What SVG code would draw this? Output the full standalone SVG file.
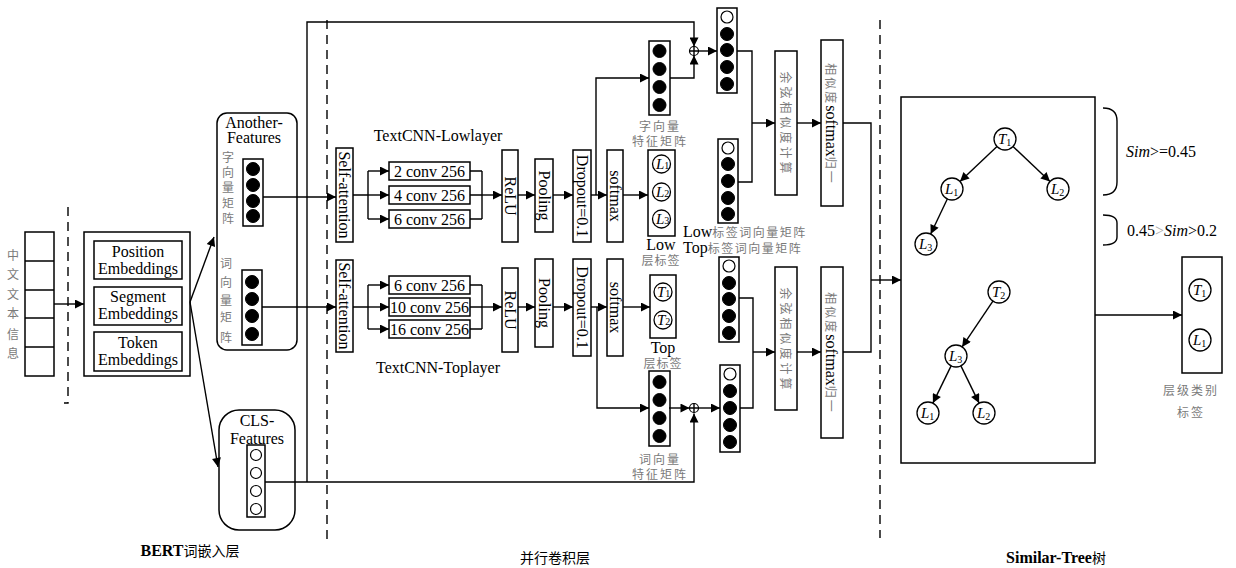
<svg xmlns="http://www.w3.org/2000/svg" width="1236" height="568" viewBox="0 0 1236 568">
<style>
.bx{fill:#fff;stroke:#000;stroke-width:1.5}
.ln{fill:none;stroke:#000;stroke-width:1.4}
.ar{fill:none;stroke:#000;stroke-width:1.4;marker-end:url(#ah)}
.dash{fill:none;stroke:#000;stroke-width:1.4;stroke-dasharray:9,6}
.t{font-family:"Liberation Serif",serif;font-size:16px;fill:#000}
.cn{font-family:"Noto Sans CJK SC",sans-serif;font-size:12px;fill:#7a7a7a}
.f{fill:#000;stroke:#000;stroke-width:1}
.o{fill:#fff;stroke:#000;stroke-width:1.2}
.nd{fill:#fff;stroke:#000;stroke-width:1.3}
.it{font-family:"Liberation Serif",serif;font-size:15px;font-style:italic;fill:#000}
.sb{font-style:normal;font-size:10px}
</style>
<defs>
<marker id="ah" viewBox="0 0 10 10" refX="10" refY="5" markerWidth="11" markerHeight="9" markerUnits="userSpaceOnUse" orient="auto"><path d="M0,0 L10,5 L0,10z" fill="#000"/></marker>
</defs>
<rect width="1236" height="568" fill="#fff"/>

<g id="separators">
<path class="dash" d="M68,207 V403 H64"/>
<path class="dash" d="M327,20 V540"/>
<path class="dash" d="M880,20 V538"/>
</g>

<g id="input">
<rect class="bx" x="25" y="232" width="29" height="144"/>
<path class="ln" d="M25,261 H54 M25,290 H54 M25,318 H54 M25,347 H54"/>
<g class="cn" text-anchor="middle" font-size="14">
<text x="13" y="260">中</text><text x="13" y="279">文</text><text x="13" y="299">文</text><text x="13" y="318">本</text><text x="13" y="339">信</text><text x="13" y="358">息</text>
</g>
</g>

<g id="bert">
<rect class="bx" x="84" y="232" width="106" height="144"/>
<rect class="bx" x="94" y="241" width="88" height="38"/>
<rect class="bx" x="94" y="287" width="88" height="38"/>
<rect class="bx" x="94" y="332" width="88" height="39"/>
<g class="t" font-size="15.5" text-anchor="middle">
<text x="138" y="257">Position</text><text x="138" y="274">Embeddings</text>
<text x="138" y="302">Segment</text><text x="138" y="319">Embeddings</text>
<text x="138" y="348">Token</text><text x="138" y="365">Embeddings</text>
</g>
</g>

<g id="another-features">
<rect class="bx" x="217" y="113" width="80" height="237" rx="10"/>
<text class="t" x="254" y="128" text-anchor="middle" font-size="15.5">Another-</text>
<text class="t" x="254" y="143" text-anchor="middle" font-size="15.5">Features</text>
<g class="cn" text-anchor="middle" font-size="14">
<text x="228" y="162">字</text><text x="228" y="177">向</text><text x="228" y="192">量</text><text x="228" y="208">矩</text><text x="228" y="223">阵</text>
<text x="226" y="268">词</text><text x="226" y="287">向</text><text x="226" y="305">量</text><text x="226" y="322">矩</text><text x="226" y="342">阵</text>
</g>
<rect class="bx" x="243" y="159" width="20" height="67"/>
<circle class="f" cx="253" cy="169" r="6.5"/><circle class="f" cx="253" cy="185" r="6.5"/><circle class="f" cx="253" cy="201" r="6.5"/><circle class="f" cx="253" cy="216" r="6.5"/>
<rect class="bx" x="242" y="270" width="20" height="75"/>
<circle class="f" cx="252" cy="282" r="6.5"/><circle class="f" cx="252" cy="299" r="6.5"/><circle class="f" cx="252" cy="316" r="6.5"/><circle class="f" cx="252" cy="334" r="6.5"/>
</g>

<g id="cls-features">
<rect class="bx" x="219" y="410" width="76" height="120" rx="20"/>
<text class="t" x="257" y="426" text-anchor="middle" font-size="15.5">CLS-</text>
<text class="t" x="257" y="444" text-anchor="middle" font-size="15.5">Features</text>
<rect class="bx" x="247" y="445" width="18" height="72"/>
<circle class="o" cx="256" cy="455" r="5.5"/><circle class="o" cx="256" cy="473" r="5.5"/><circle class="o" cx="256" cy="491" r="5.5"/><circle class="o" cx="256" cy="509" r="5.5"/>
</g>

<g id="textcnn-low">
<text class="t" x="438" y="141" text-anchor="middle">TextCNN-Lowlayer</text>
<rect class="bx" x="336" y="148" width="17" height="94"/>
<text class="t" transform="translate(344.5,195) rotate(90)" text-anchor="middle" dominant-baseline="central">Self-attention</text>
<rect class="bx" x="389" y="162" width="81" height="18"/>
<rect class="bx" x="389" y="186" width="81" height="18"/>
<rect class="bx" x="389" y="210" width="81" height="18"/>
<text class="t" x="429.5" y="177" text-anchor="middle">2 conv 256</text>
<text class="t" x="429.5" y="201" text-anchor="middle">4 conv 256</text>
<text class="t" x="429.5" y="225" text-anchor="middle">6 conv 256</text>
<rect class="bx" x="502" y="150" width="16" height="92"/>
<text class="t" transform="translate(510,196) rotate(90)" text-anchor="middle" dominant-baseline="central">ReLU</text>
<rect class="bx" x="535" y="159" width="18" height="73"/>
<text class="t" transform="translate(544,195.5) rotate(90)" text-anchor="middle" dominant-baseline="central">Pooling</text>
<rect class="bx" x="573" y="150" width="18" height="92"/>
<text class="t" font-size="15" transform="translate(582,196) rotate(90)" text-anchor="middle" dominant-baseline="central">Dropout=0.1</text>
<rect class="bx" x="607" y="150" width="16" height="92"/>
<text class="t" transform="translate(615,196) rotate(90)" text-anchor="middle" dominant-baseline="central">softmax</text>
</g>

<g id="low-labels">
<rect class="bx" x="648" y="150" width="27" height="86"/>
<circle class="nd" cx="661.5" cy="164" r="9"/><circle class="nd" cx="661.5" cy="192" r="9"/><circle class="nd" cx="661.5" cy="219" r="9"/>
<text class="it" font-size="13" x="656" y="168.5">L<tspan class="sb" font-size="8">1</tspan></text>
<text class="it" font-size="13" x="656" y="196.5">L<tspan class="sb" font-size="8">2</tspan></text>
<text class="it" font-size="13" x="656" y="223.5">L<tspan class="sb" font-size="8">3</tspan></text>
<text class="t" font-size="13" x="661" y="250" text-anchor="middle">Low</text>
<text class="cn" x="661" y="265" text-anchor="middle" letter-spacing="1">层标签</text>
</g>

<g id="textcnn-top">
<text class="t" x="438" y="373" text-anchor="middle">TextCNN-Toplayer</text>
<rect class="bx" x="336" y="260" width="17" height="92"/>
<text class="t" transform="translate(344.5,306) rotate(90)" text-anchor="middle" dominant-baseline="central">Self-attention</text>
<rect class="bx" x="389" y="276" width="81" height="18"/>
<rect class="bx" x="389" y="298" width="81" height="18"/>
<rect class="bx" x="389" y="320" width="81" height="18"/>
<text class="t" x="429.5" y="291" text-anchor="middle">6 conv 256</text>
<text class="t" x="429.5" y="313" text-anchor="middle">10 conv 256</text>
<text class="t" x="429.5" y="335" text-anchor="middle">16 conv 256</text>
<rect class="bx" x="502" y="268" width="16" height="84"/>
<text class="t" transform="translate(510,310) rotate(90)" text-anchor="middle" dominant-baseline="central">ReLU</text>
<rect class="bx" x="535" y="259" width="18" height="88"/>
<text class="t" transform="translate(544,303) rotate(90)" text-anchor="middle" dominant-baseline="central">Pooling</text>
<rect class="bx" x="573" y="259" width="18" height="97"/>
<text class="t" font-size="15" transform="translate(582,307.5) rotate(90)" text-anchor="middle" dominant-baseline="central">Dropout=0.1</text>
<rect class="bx" x="607" y="259" width="16" height="97"/>
<text class="t" transform="translate(615,307.5) rotate(90)" text-anchor="middle" dominant-baseline="central">softmax</text>
</g>

<g id="top-labels">
<rect class="bx" x="650" y="275" width="26" height="63"/>
<circle class="nd" cx="663" cy="292" r="9"/><circle class="nd" cx="663" cy="320" r="9"/>
<text class="it" font-size="13" x="657" y="296.5">T<tspan class="sb" font-size="8">1</tspan></text>
<text class="it" font-size="13" x="657" y="324.5">T<tspan class="sb" font-size="8">2</tspan></text>
<text class="t" font-size="13" x="663" y="353" text-anchor="middle">Top</text>
<text class="cn" x="663" y="368" text-anchor="middle" letter-spacing="1">层标签</text>
</g>

<g id="char-feature">
<rect class="bx" x="649" y="41" width="21" height="74"/>
<circle class="f" cx="659.5" cy="51" r="6.5"/><circle class="f" cx="659.5" cy="69" r="6.5"/><circle class="f" cx="659.5" cy="87" r="6.5"/><circle class="f" cx="659.5" cy="105" r="6.5"/>
<text class="cn" x="660" y="131" text-anchor="middle" letter-spacing="2">字向量</text>
<text class="cn" x="660" y="146" text-anchor="middle" letter-spacing="2">特征矩阵</text>
</g>

<g id="word-feature">
<rect class="bx" x="649" y="371" width="21" height="75"/>
<circle class="f" cx="659.5" cy="382" r="6.5"/><circle class="f" cx="659.5" cy="400" r="6.5"/><circle class="f" cx="659.5" cy="418" r="6.5"/><circle class="f" cx="659.5" cy="436" r="6.5"/>
<text class="cn" x="660" y="464" text-anchor="middle" letter-spacing="2">词向量</text>
<text class="cn" x="660" y="479" text-anchor="middle" letter-spacing="2">特征矩阵</text>
</g>

<g id="plus-top">
<circle cx="694" cy="51" r="4.5" fill="#fff" stroke="#000" stroke-width="1.2"/>
<path class="ln" stroke-width="1" d="M689.5,51 H698.5 M694,46.5 V55.5"/>
</g>
<g id="plus-bottom">
<circle cx="694" cy="408" r="4.5" fill="#fff" stroke="#000" stroke-width="1.2"/>
<path class="ln" stroke-width="1" d="M689.5,408 H698.5 M694,403.5 V412.5"/>
</g>

<g id="vec-concat-top">
<rect class="bx" x="717" y="8" width="20" height="85"/>
<circle class="o" cx="727" cy="17" r="6"/><circle class="f" cx="727" cy="34" r="6.5"/><circle class="f" cx="727" cy="50" r="6.5"/><circle class="f" cx="727" cy="67" r="6.5"/><circle class="f" cx="727" cy="84" r="6.5"/>
</g>
<g id="vec-low-label">
<rect class="bx" x="718" y="139" width="20" height="84"/>
<circle class="o" cx="728" cy="148" r="6"/><circle class="f" cx="728" cy="164" r="6.5"/><circle class="f" cx="728" cy="181" r="6.5"/><circle class="f" cx="728" cy="198" r="6.5"/><circle class="f" cx="728" cy="214" r="6.5"/>
</g>
<g id="vec-top-label">
<rect class="bx" x="719" y="257" width="20" height="85"/>
<circle class="o" cx="729" cy="266" r="6"/><circle class="f" cx="729" cy="283" r="6.5"/><circle class="f" cx="729" cy="299" r="6.5"/><circle class="f" cx="729" cy="316" r="6.5"/><circle class="f" cx="729" cy="333" r="6.5"/>
</g>
<g id="vec-concat-bottom">
<rect class="bx" x="720" y="365" width="20" height="87"/>
<circle class="o" cx="730" cy="374" r="6"/><circle class="f" cx="730" cy="391" r="6.5"/><circle class="f" cx="730" cy="408" r="6.5"/><circle class="f" cx="730" cy="425" r="6.5"/><circle class="f" cx="730" cy="442" r="6.5"/>
</g>
<g id="label-matrix-text">
<text x="683" y="237"><tspan class="t" font-size="14">Low</tspan><tspan class="cn" font-size="13" letter-spacing="1.5">标签词向量矩阵</tspan></text>
<text x="683" y="253"><tspan class="t" font-size="14">Top</tspan><tspan class="cn" font-size="13" letter-spacing="1.5">标签词向量矩阵</tspan></text>
</g>

<g id="cosine-1">
<rect class="bx" x="775" y="51" width="22" height="144"/>
<text class="cn" font-size="14" letter-spacing="3" transform="translate(786,124) rotate(90)" text-anchor="middle" dominant-baseline="central">余弦相似度计算</text>
</g>
<g id="softmax-1">
<rect class="bx" x="821" y="40" width="22" height="166"/>
<text transform="translate(832,124) rotate(90)" text-anchor="middle" dominant-baseline="central"><tspan class="cn" font-size="14" letter-spacing="2">相似度</tspan><tspan class="t">softmax</tspan><tspan class="cn" font-size="14" letter-spacing="2">归一</tspan></text>
</g>
<g id="cosine-2">
<rect class="bx" x="775" y="267" width="22" height="143"/>
<text class="cn" font-size="14" letter-spacing="3" transform="translate(786,340) rotate(90)" text-anchor="middle" dominant-baseline="central">余弦相似度计算</text>
</g>
<g id="softmax-2">
<rect class="bx" x="821" y="267" width="22" height="171"/>
<text transform="translate(832,353) rotate(90)" text-anchor="middle" dominant-baseline="central"><tspan class="cn" font-size="14" letter-spacing="2">相似度</tspan><tspan class="t">softmax</tspan><tspan class="cn" font-size="14" letter-spacing="2">归一</tspan></text>
</g>

<g id="similar-tree">
<rect class="bx" x="901" y="97" width="194" height="366"/>
<circle class="nd" cx="1005" cy="139" r="11"/><text class="it" x="998" y="144">T<tspan class="sb" dy="2">1</tspan></text>
<circle class="nd" cx="952" cy="189" r="11"/><text class="it" x="945" y="194">L<tspan class="sb" dy="2">1</tspan></text>
<circle class="nd" cx="1058" cy="189" r="11"/><text class="it" x="1051" y="194">L<tspan class="sb" dy="2">2</tspan></text>
<circle class="nd" cx="926" cy="244" r="11"/><text class="it" x="919" y="249">L<tspan class="sb" dy="2">3</tspan></text>
<circle class="nd" cx="999" cy="292" r="11"/><text class="it" x="992" y="297">T<tspan class="sb" dy="2">2</tspan></text>
<circle class="nd" cx="956" cy="356" r="11"/><text class="it" x="949" y="361">L<tspan class="sb" dy="2">3</tspan></text>
<circle class="nd" cx="928" cy="413" r="11"/><text class="it" x="921" y="418">L<tspan class="sb" dy="2">1</tspan></text>
<circle class="nd" cx="984" cy="413" r="11"/><text class="it" x="977" y="418">L<tspan class="sb" dy="2">2</tspan></text>
</g>

<g id="thresholds">
<path class="ln" d="M1103,108 Q1117,108 1117,121 V182 Q1117,195 1103,195"/>
<path class="ln" d="M1103,215 Q1117,215 1117,223 V237 Q1117,245 1103,245"/>
<text class="t" font-size="15" x="1126" y="157"><tspan font-style="italic">Sim</tspan>&gt;=0.45</text>
<text class="t" font-size="15" x="1127" y="236">0.45<tspan fill="#aaa">&gt;</tspan><tspan font-style="italic">Sim</tspan>&gt;0.2</text>
</g>

<g id="result">
<rect class="bx" x="1182" y="257" width="40" height="116"/>
<circle class="nd" cx="1200" cy="290" r="11"/><text class="it" x="1193" y="295">T<tspan class="sb" dy="2">1</tspan></text>
<circle class="nd" cx="1200" cy="340" r="11"/><text class="it" x="1193" y="345">L<tspan class="sb" dy="2">1</tspan></text>
<text class="cn" font-size="14" x="1191" y="395" text-anchor="middle" letter-spacing="2">层级类别</text>
<text class="cn" font-size="14" x="1191" y="417" text-anchor="middle" letter-spacing="2">标签</text>
</g>

<g id="section-titles">
<text x="190" y="556" text-anchor="middle"><tspan class="t" font-weight="bold" font-size="15">BERT</tspan><tspan font-family="'Noto Sans CJK SC',sans-serif" font-size="14">词嵌入层</tspan></text>
<text x="555" y="563" text-anchor="middle" font-family="'Noto Sans CJK SC',sans-serif" font-size="14">并行卷积层</text>
<text x="1056" y="563" text-anchor="middle"><tspan class="t" font-weight="bold" font-size="15">Similar-Tree</tspan><tspan font-family="'Noto Sans CJK SC',sans-serif" font-size="14">树</tspan></text>
</g>

<g id="connectors">
<path class="ar" d="M54,304 H84"/>
<path class="ar" d="M190,302 L214,237"/>
<path class="ar" d="M190,302 L218,467"/>
<path class="ar" d="M263,197 H336"/>
<path class="ar" d="M262,307 H336"/>
<path class="ln" d="M265,482 H307"/>
<path class="ar" d="M307,482 H694 V413.5"/>
<path class="ar" d="M307,482 V22 H694 V46.5"/>
<path class="ln" d="M353,195 H368 M368,171 V219"/>
<path class="ar" d="M368,171 H389"/><path class="ar" d="M368,195 H389"/><path class="ar" d="M368,219 H389"/>
<path class="ln" d="M470,171 H482 M470,195 H482 M470,219 H482 M482,171 V219"/>
<path class="ar" d="M482,195 H502"/>
<path class="ln" d="M353,307 H368 M368,285 V329"/>
<path class="ar" d="M368,285 H389"/><path class="ar" d="M368,307 H389"/><path class="ar" d="M368,329 H389"/>
<path class="ln" d="M470,285 H482 M470,307 H482 M470,329 H482 M482,285 V329"/>
<path class="ar" d="M482,307 H502"/>
<path class="ar" d="M518,195 H535"/><path class="ar" d="M553,195 H573"/><path class="ar" d="M591,195 H607"/><path class="ar" d="M623,195 H648"/>
<path class="ar" d="M518,307 H535"/><path class="ar" d="M553,307 H573"/><path class="ar" d="M591,307 H607"/><path class="ar" d="M623,307 H650"/>
<path class="ar" d="M596,195 V78 H649"/>
<path class="ar" d="M670,78 H694 V55.5"/>
<path class="ar" d="M698.5,51 H717"/>
<path class="ar" d="M597,307 V408 H649"/>
<path class="ar" d="M669,408 H689.5"/>
<path class="ar" d="M698.5,408 H720"/>
<path class="ln" d="M737,51 H752 V182 H738"/>
<path class="ar" d="M752,123 H775"/>
<path class="ln" d="M739,298 H753 V408 H740"/>
<path class="ar" d="M753,352 H775"/>
<path class="ar" d="M797,123 H821"/>
<path class="ar" d="M797,352 H821"/>
<path class="ln" d="M843,123 H871 V352 H843"/>
<path class="ar" d="M871,280 H901"/>
<path class="ar" d="M1095,315 H1182"/>
<path class="ar" d="M997,146.5 L960,181.5"/>
<path class="ar" d="M1013,146.5 L1050,181.5"/>
<path class="ar" d="M947.3,199 L930.7,234"/>
<path class="ar" d="M992.9,301.1 L962.1,346.9"/>
<path class="ar" d="M951.1,365.9 L932.9,403.1"/>
<path class="ar" d="M960.9,365.9 L979.1,403.1"/>
</g>
</svg>
